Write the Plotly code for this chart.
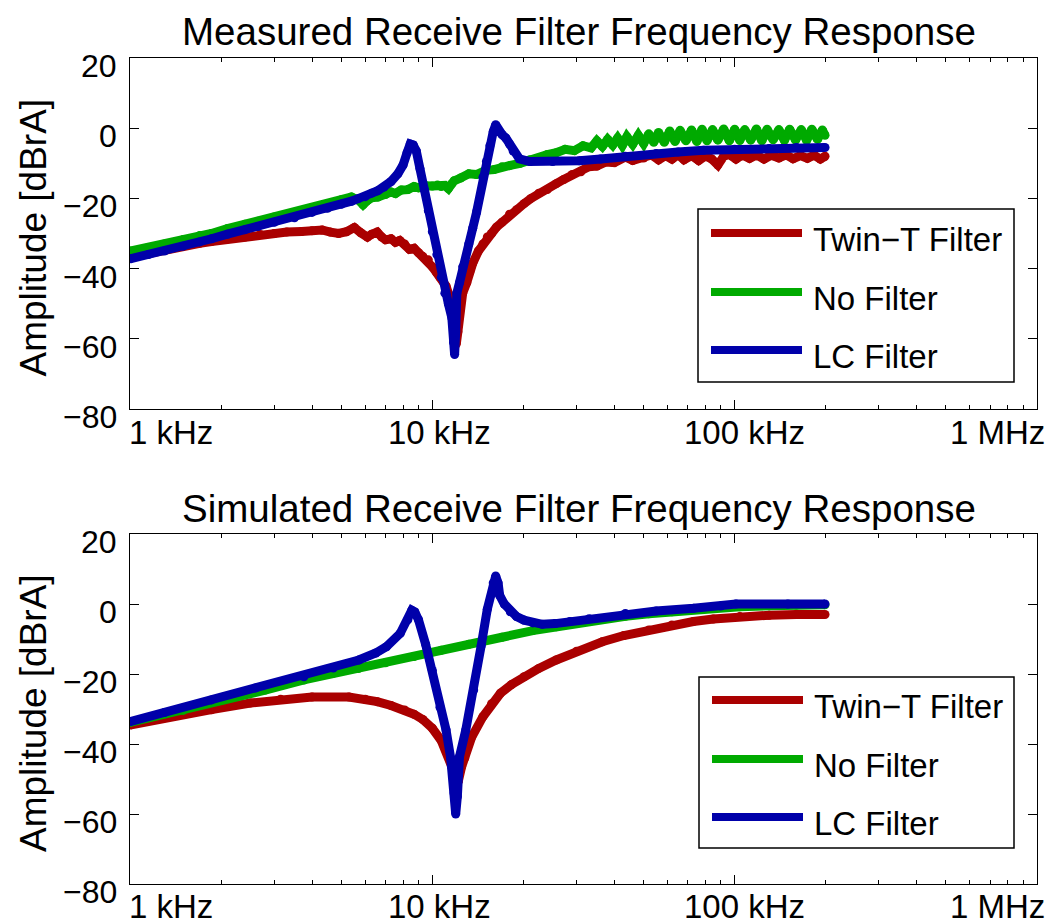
import numpy as np
import plotly.graph_objects as go

W, H = 1054, 924

# ---------------- data (frequency in kHz, amplitude in dBrA) ----------------
series_names = ["Twin\u2212T Filter", "No Filter", "LC Filter"]
series_colors = ["#AA0000", "#00AA00", "#0000AA"]

# Measured
meas_twint_f = [1.0, 1.15, 1.3, 1.5, 1.7, 1.86, 2.1, 2.4, 2.7, 3.0, 3.3, 3.7, 4.0, 4.32, 4.6, 4.9,
                5.2, 5.52, 5.8, 6.1, 6.3, 6.57, 6.8, 7.0, 7.3, 7.55, 7.8, 8.1, 8.4, 8.7, 9.0, 9.3,
                9.7, 10.0, 10.3, 10.6, 11.1, 11.4, 11.6, 11.8, 12.0, 12.15, 12.3, 12.6, 13.0, 13.3,
                13.6, 14.2, 14.7, 15.2, 15.7, 16.3, 17.0, 18.0, 19.0, 20.1, 21.2, 22.5, 24.0, 25.7,
                27.2, 29.0, 31.0, 32.9, 35.0, 37.5, 40.0, 43.5, 46, 50, 53, 56, 59, 62, 65, 68, 72,
                76, 80, 84, 88, 92, 96, 101, 106, 112, 118, 125, 132, 140, 148, 156, 165, 174, 183,
                192, 199]
meas_twint_db = [-36.8, -35.6, -34.6, -33.6, -32.8, -32.3, -31.6, -31.0, -30.3, -30.0, -29.6, -29.4,
                 -29.2, -29.0, -29.6, -30.0, -29.5, -28.3, -29.8, -31.0, -30.2, -29.6, -31.0, -31.8,
                 -31.5, -32.5, -32.0, -33.0, -34.5, -34.2, -35.5, -36.5, -37.5, -39.5, -41.0, -42.5,
                 -45.0, -48.0, -52.0, -57.0, -61.5, -58.0, -52.0, -47.0, -44.0, -41.0, -38.5, -35.0,
                 -33.0, -31.0, -30.0, -28.2, -26.8, -24.5, -23.2, -21.5, -20.0, -18.5, -17.5, -15.8,
                 -14.6, -13.2, -12.4, -11.0, -10.8, -9.6, -9.8, -8.2, -9.2, -8.5, -7.6, -9.0, -7.8,
                 -8.8, -7.5, -9.0, -7.8, -9.2, -7.9, -8.8, -10.5, -8.0, -7.5, -8.8, -7.6, -8.6,
                 -7.6, -8.8, -7.7, -8.5, -7.6, -8.7, -7.8, -8.6, -7.7, -8.8, -8.0]

meas_none_f = [1.0, 1.15, 1.3, 1.5, 1.7, 1.86, 2.1, 2.4, 2.65, 3.0, 3.5, 4.0, 4.5, 5.0, 5.4, 5.7,
               5.9, 6.1, 6.3, 6.6, 7.0, 7.3, 7.55, 7.9, 8.3, 8.7, 9.0, 9.5, 10.0, 10.4, 10.7, 11.0,
               11.3, 11.6, 11.8, 12.4, 13.2, 14.0, 15.0, 16.0, 17.0, 18.1, 19.5, 21.0, 22.5, 24.0,
               25.7, 27.5, 29.5, 31.5, 33.5, 35, 36.5, 38, 39.5, 41, 42.5, 44, 46, 48, 50, 52, 54,
               56, 58.5, 61, 63.5, 66, 69, 72, 75, 78, 81, 84.5, 88, 92, 96, 100, 104, 108, 113,
               118, 123, 128, 134, 140, 146, 152, 159, 166, 173, 180, 188, 195, 199]
meas_none_db = [-35.0, -34.0, -33.0, -31.7, -30.6, -30.0, -28.6, -27.4, -26.5, -25.3, -24.0, -22.6,
                -21.5, -20.4, -19.6, -20.5, -21.8, -20.6, -19.8, -19.6, -18.9, -18.2, -18.6, -17.6,
                -17.5, -16.6, -17.0, -16.4, -16.5, -16.2, -16.6, -16.3, -17.2, -15.8, -15.0, -14.2,
                -13.0, -13.2, -12.0, -11.8, -11.0, -10.6, -10.0, -9.0, -8.6, -7.5, -7.0, -6.0,
                -6.4, -5.0, -5.6, -3.6, -5.2, -3.2, -4.8, -2.8, -4.9, -2.4, -4.6, -2.0, -4.4,
                -1.6, -4.0, -1.2, -4.0, -0.8, -3.8, -0.6, -3.6, -0.5, -3.8, -0.3, -3.6, -0.4,
                -3.4, -0.2, -3.6, -0.3, -3.5, -0.4, -3.4, -0.2, -3.6, -0.3, -3.3, -0.4, -3.5,
                -0.3, -3.4, -0.4, -3.5, -0.3, -3.2, -0.5, -2.0]

meas_lc_f = [1.0, 1.15, 1.3, 1.5, 1.7, 1.86, 2.1, 2.4, 2.65, 3.0, 3.5, 4.0, 4.5, 5.0, 5.4, 5.71,
             6.0, 6.3, 6.6, 6.92, 7.3, 7.69, 8.0, 8.25, 8.45, 8.65, 8.85, 9.1, 9.4, 9.7, 10.0,
             10.35, 10.7, 11.0, 11.3, 11.6, 11.75, 11.85, 11.95, 12.05, 12.3, 12.6, 13.2, 13.6,
             14.0, 14.7, 15.1, 15.5, 15.9, 16.2, 16.6, 17.0, 17.5, 18.0, 18.5, 19.4, 21, 25, 30.6,
             36, 43.5, 55, 65, 78.9, 100, 130, 160, 199]
meas_lc_db = [-37.2, -36.0, -35.0, -33.6, -32.4, -31.5, -30.2, -28.9, -28.0, -26.8, -25.5, -24.0,
              -22.8, -21.7, -20.8, -20.0, -19.5, -18.5, -17.8, -16.8, -15.2, -13.0, -10.5, -7.0,
              -4.5, -4.8, -6.5, -11.5, -17.5, -23.5, -29.5, -36.0, -42.5, -47.0, -50.0, -54.0,
              -61.0, -64.5, -58.0, -47.0, -44.0, -39.5, -33.0, -28.5, -24.0, -14.0, -9.5, -5.0,
              -1.0, 1.0, -1.0, -1.8, -2.8, -4.5, -6.5, -8.7, -9.5, -9.5, -9.3, -8.8, -8.0, -7.2,
              -6.8, -6.3, -6.0, -5.8, -5.5, -5.5]

# Simulated
sim_twint_f = [1.0, 1.3, 1.86, 2.5, 3.15, 4.0, 5.3, 6.0, 6.57, 7.3, 8.1, 8.7, 9.3, 10.0, 10.7, 11.2,
               11.6, 12.0, 12.2, 12.5, 12.8, 13.5, 14.7, 15.7, 16.8, 18.3, 20.1, 22.5, 25.7, 30,
               36.5, 43, 52, 62, 73, 85, 104, 130, 160, 199]
sim_twint_db = [-34.6, -32.5, -30.2, -28.3, -27.2, -26.6, -26.6, -27.2, -27.9, -29.0, -30.3, -31.5,
                -33.0, -35.5, -39.0, -42.5, -46.5, -51.0, -50.5, -46.5, -44.0, -38.0, -32.2, -28.5,
                -25.5, -23.0, -20.8, -18.4, -16.0, -13.5, -10.8, -9.0, -7.4, -6.0, -5.0, -4.3,
                -3.6, -3.2, -3.0, -3.0]

sim_none_f = [1.0, 1.5, 2.0, 2.8, 3.76, 4.7, 5.71, 7.0, 8.7, 10.7, 13.2, 17.0, 21.5, 25.7, 30.6,
              36.5, 43.5, 52, 62, 73, 87, 104, 130, 160, 199]
sim_none_db = [-33.8, -30.4, -27.6, -24.6, -21.7, -19.8, -18.4, -16.8, -15.0, -13.2, -11.5, -9.5,
               -7.6, -6.5, -5.2, -4.3, -3.5, -2.8, -2.2, -1.6, -1.1, -0.8, -0.5, -0.3, -0.2]

sim_lc_f = [1.0, 1.3, 1.86, 2.6, 3.76, 4.7, 5.71, 6.5, 7.05, 7.83, 8.3, 8.55, 8.75, 9.0, 9.5, 10.0,
            10.6, 11.1, 11.5, 11.8, 11.95, 12.1, 12.3, 12.9, 13.7, 14.5, 15.2, 15.9, 16.2, 16.5,
            16.7, 17.3, 18.1, 19.0, 20.1, 21.5, 23.1, 25.5, 28.5, 33, 43.5, 55, 73.1, 90, 101,
            150, 199]
sim_lc_db = [-33.6, -31.0, -27.4, -24.0, -20.8, -18.3, -16.0, -14.0, -12.2, -8.4, -4.5, -1.8, -2.3,
             -4.5, -11.5, -19.0, -29.5, -36.0, -44.0, -54.0, -60.0, -55.0, -43.6, -36.0, -24.6,
             -12.0, -1.5, 6.0, 8.0, 6.0, 2.5, 0.0, -2.2, -3.6, -4.6, -5.4, -5.8, -5.6, -5.0,
             -4.2, -2.7, -2.0, -1.2, -0.6, 0.0, 0.0, 0.0]

xtick_vals_hz = [1e3, 1e4, 1e5, 1e6]
xtick_text = ["1 kHz", "10 kHz", "100 kHz", "1 MHz"]
ytick_vals = [-80, -60, -40, -20, 0, 20]
ytick_text = ["\u221280", "\u221260", "\u221240", "\u221220", "0", "20"]
titles = ["Measured Receive Filter Frequency Response",
          "Simulated Receive Filter Frequency Response"]
ylabel = "Amplitude [dBrA]"

# ---------------- layout helpers (screen pixel -> paper) ----------------
# the page body adds an 8 px margin around the figure, so compensate for it
OFF = 8

def fx(p):
    return (p - OFF) / W

def fy(p):
    return 1 - (p - OFF) / H

X0, X1 = 130, 1037
panels = [
    dict(top=58, bottom=409, title_y=None, leg=(698, 1014, 209, 382), leg_rows=[233, 292, 350],
         xl_y=432),
    dict(top=534, bottom=884, title_y=508, leg=(699, 1014, 677, 848), leg_rows=[700, 759, 817],
         xl_y=906),
]

FONT = "Liberation Sans, Arial, Helvetica, sans-serif"
LW = 9

fig = go.Figure()

data_sets = [
    [(meas_twint_f, meas_twint_db), (meas_none_f, meas_none_db), (meas_lc_f, meas_lc_db)],
    [(sim_twint_f, sim_twint_db), (sim_none_f, sim_none_db), (sim_lc_f, sim_lc_db)],
]

for pi, sets in enumerate(data_sets):
    xa = "x" if pi == 0 else "x2"
    ya = "y" if pi == 0 else "y2"
    for si, (f, db) in enumerate(sets):
        fig.add_trace(go.Scatter(
            x=np.array(f) * 1000.0, y=db, mode="lines+markers", name=series_names[si],
            line=dict(color=series_colors[si], width=LW),
            marker=dict(color=series_colors[si], size=LW, line=dict(width=0)),
            xaxis=xa, yaxis=ya, showlegend=False, hoverinfo="skip"))

axis_common = dict(showline=True, linecolor="#000", linewidth=1.3, mirror="ticks",
                   ticks="inside", ticklen=9, tickwidth=1.3, tickcolor="#000",
                   showgrid=False, zeroline=False, automargin=False)

layout = dict(width=W, height=H, margin=dict(l=0, r=0, t=0, b=0, pad=0, autoexpand=False),
              paper_bgcolor="white", plot_bgcolor="white",
              font=dict(family=FONT, color="#000"), showlegend=False)

annotations = []
shapes = []
for pi, p in enumerate(panels):
    sfx = "" if pi == 0 else "2"
    layout["xaxis" + sfx] = dict(
        type="log", range=[3, 6], domain=[fx(X0), fx(X1)], anchor="y" + sfx,
        tickvals=xtick_vals_hz, showticklabels=False,
        minor=dict(ticks="inside", ticklen=4, tickwidth=1, tickcolor="#000", dtick="D1",
                   showgrid=False),
        **axis_common)
    layout["yaxis" + sfx] = dict(
        range=[-80, 20], domain=[fy(p["bottom"]), fy(p["top"])], anchor="x" + sfx,
        tickvals=ytick_vals, showticklabels=False,
        **axis_common)
    # y tick labels (offset slightly below their ticks as in the original)
    for tv, tt in zip(ytick_vals, ytick_text):
        annotations.append(dict(text=tt, xref="paper", yref="y" + sfx, x=fx(119), y=tv,
                                xanchor="right", yanchor="middle", yshift=-8,
                                showarrow=False, font=dict(size=32, family=FONT)))
    # title
    if p["title_y"] is None:
        title_pos = dict(y=1.0, yanchor="top")
    else:
        title_pos = dict(y=fy(p["title_y"]), yanchor="middle")
    annotations.append(dict(text=titles[pi], xref="paper", yref="paper", x=fx(579),
                            xanchor="center", showarrow=False,
                            font=dict(size=38.5, family=FONT), **title_pos))
    # y label
    annotations.append(dict(text=ylabel, xref="paper", yref="paper", x=fx(33),
                            y=fy((p["top"] + p["bottom"]) / 2 + 4), xanchor="center",
                            yanchor="middle", textangle=-90, showarrow=False,
                            font=dict(size=37, family=FONT)))
    # x tick labels
    anchors = ["left", "center", "center", "right"]
    shifts = [-3, 7, 10, 10]
    for k, (tv, tt) in enumerate(zip(xtick_vals_hz, xtick_text)):
        annotations.append(dict(text=tt, xref="x" + sfx, yref="paper", x=np.log10(tv),
                                y=fy(p["xl_y"]), xanchor=anchors[k], yanchor="middle",
                                xshift=shifts[k], showarrow=False,
                                font=dict(size=33, family=FONT)))
    # legend box
    lx0, lx1, ly0, ly1 = p["leg"]
    shapes.append(dict(type="rect", xref="paper", yref="paper", x0=fx(lx0), x1=fx(lx1),
                       y0=fy(ly1), y1=fy(ly0), line=dict(color="#000", width=1.5),
                       fillcolor="white", layer="above"))
    for si, ry in enumerate(p["leg_rows"]):
        shapes.append(dict(type="line", xref="paper", yref="paper", x0=fx(lx0 + 13),
                           x1=fx(lx0 + 104), y0=fy(ry), y1=fy(ry),
                           line=dict(color=series_colors[si], width=8), layer="above"))
        annotations.append(dict(text=series_names[si], xref="paper", yref="paper",
                                x=fx(lx0 + 113), y=fy(ry + 6), xanchor="left",
                                yanchor="middle", showarrow=False,
                                font=dict(size=33, family=FONT)))

layout["annotations"] = annotations
layout["shapes"] = shapes
fig.update_layout(**layout)
fig.write_html("out.html")
